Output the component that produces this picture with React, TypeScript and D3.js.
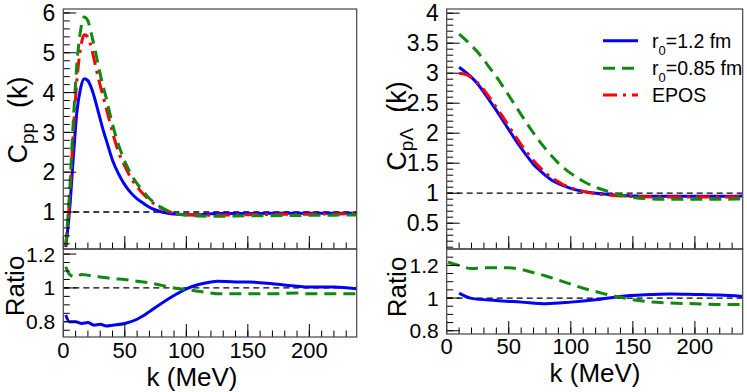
import * as d3 from "d3";
import React from "react";

const FONT = "'Liberation Sans', Arial, Helvetica, sans-serif";

// ---- p-p correlation (left panel) ----
const kPP = [2, 5, 8, 11, 14, 17, 20, 23, 26, 29, 32, 35, 40, 45, 50, 55, 60, 65, 70, 75, 80, 85, 90, 100, 110, 120, 130, 140, 160, 180, 200, 220, 238];
const ppR12 = [0.12, 1.0, 2.3, 3.5, 4.1, 4.35, 4.3, 4.1, 3.8, 3.45, 3.1, 2.8, 2.3, 1.95, 1.68, 1.48, 1.33, 1.22, 1.12, 1.05, 1.0, 0.97, 0.95, 0.93, 0.93, 0.955, 0.965, 0.965, 0.965, 0.97, 0.97, 0.97, 0.97];
const ppR085 = [0.16, 1.45, 3.2, 4.7, 5.55, 5.9, 5.8, 5.45, 5.05, 4.6, 4.2, 3.85, 3.2, 2.68, 2.27, 1.95, 1.71, 1.51, 1.34, 1.21, 1.11, 1.03, 0.97, 0.92, 0.9, 0.895, 0.895, 0.9, 0.905, 0.91, 0.915, 0.92, 0.925];
const ppEpos = [0.14, 1.25, 2.9, 4.3, 5.1, 5.45, 5.4, 5.1, 4.7, 4.3, 3.95, 3.6, 3.0, 2.5, 2.15, 1.85, 1.63, 1.45, 1.3, 1.18, 1.09, 1.02, 0.97, 0.93, 0.92, 0.92, 0.925, 0.93, 0.935, 0.94, 0.945, 0.95, 0.955];

const kRatioPP = [2, 5, 10, 15, 20, 25, 30, 35, 40, 50, 60, 65, 70, 80, 90, 100, 110, 120, 125, 140, 150, 170, 190, 200, 220, 238];
const ratioPPR12 = [0.84, 0.8, 0.8, 0.79, 0.795, 0.78, 0.785, 0.775, 0.78, 0.79, 0.815, 0.835, 0.86, 0.91, 0.955, 0.995, 1.02, 1.035, 1.04, 1.035, 1.035, 1.025, 1.01, 1.005, 1.005, 0.995];
const ratioPPR085 = [1.125, 1.08, 1.065, 1.08, 1.075, 1.07, 1.065, 1.06, 1.055, 1.05, 1.04, 1.035, 1.03, 1.015, 1.0, 0.99, 0.98, 0.97, 0.965, 0.965, 0.965, 0.965, 0.97, 0.965, 0.965, 0.965];

// ---- p-Lambda correlation (right panel) ----
const kPL = [10, 15, 20, 25, 30, 35, 40, 45, 50, 55, 60, 65, 70, 75, 80, 85, 90, 95, 100, 110, 120, 130, 140, 150, 160, 180, 200, 220, 238];
const plR12 = [3.1, 3.02, 2.93, 2.82, 2.68, 2.53, 2.38, 2.22, 2.06, 1.9, 1.75, 1.61, 1.48, 1.38, 1.29, 1.21, 1.16, 1.12, 1.08, 1.03, 1.0, 0.98, 0.96, 0.955, 0.95, 0.95, 0.95, 0.95, 0.955];
const plR085 = [3.65, 3.56, 3.46, 3.35, 3.22, 3.08, 2.94, 2.79, 2.63, 2.47, 2.31, 2.15, 2.0, 1.86, 1.73, 1.61, 1.5, 1.41, 1.33, 1.2, 1.1, 1.03, 0.97, 0.93, 0.91, 0.9, 0.9, 0.9, 0.905];
const plEpos = [3.0, 2.98, 2.93, 2.84, 2.72, 2.58, 2.43, 2.28, 2.12, 1.96, 1.81, 1.67, 1.54, 1.43, 1.33, 1.25, 1.19, 1.13, 1.09, 1.03, 0.99, 0.97, 0.955, 0.945, 0.94, 0.935, 0.935, 0.935, 0.94];

const kRatioPLR12 = [10, 20, 40, 60, 80, 100, 120, 140, 160, 180, 200, 220, 238];
const ratioPLR12 = [1.03, 0.998, 0.985, 0.975, 0.965, 0.975, 0.99, 1.01, 1.02, 1.025, 1.022, 1.018, 1.01];
const kRatioPLR085 = [1, 10, 20, 30, 40, 50, 60, 70, 80, 90, 100, 110, 120, 130, 140, 150, 160, 180, 200, 220, 238];
const ratioPLR085 = [1.22, 1.2, 1.18, 1.185, 1.185, 1.185, 1.175, 1.155, 1.135, 1.11, 1.085, 1.06, 1.04, 1.02, 1.005, 0.99, 0.98, 0.97, 0.965, 0.96, 0.96];

const xMajorTicks = [0, 50, 100, 150, 200];
const legendLabels = ["1.2 fm", "0.85 fm", "EPOS"];

const BLUE = "#0000ff";
const GREEN = "#118811";
const RED = "#ff0000";
const DASH_GREEN = "12 7";
const DASH_RED = "14 6 3 6";

type Curve = { k: number[]; v: number[]; color: string; dash?: string };

const fmt = (v: number) => d3.format("~g")(+v.toFixed(2));

function Pad(props: {
  id: string;
  x0: number; x1: number; y0: number; y1: number;
  yDomain: [number, number];
  yMajor: number[]; yMinorStep: number;
  curves: Curve[];
  showXLabels: boolean;
  labelSize: number;
  xLabelY?: number;
}) {
  const { id, x0, x1, y0, y1, yDomain, yMajor, yMinorStep, curves, showXLabels, labelSize } = props;
  const xs = d3.scaleLinear().domain([0, 238.5]).range([x0, x1]);
  const ys = d3.scaleLinear().domain(yDomain).range([y1, y0]);
  const yMinor = d3.range(Math.ceil(yDomain[0] / yMinorStep) * yMinorStep, yDomain[1], yMinorStep);
  const xMinor = d3.range(10, 238.5, 10);
  const line = (c: Curve) =>
    d3.line<number>().x((_, i) => xs(c.k[i])).y(d => ys(d)).curve(d3.curveMonotoneX)(c.v) || "";

  return (
    <g>
      <defs>
        <clipPath id={id}>
          <rect x={x0} y={y0} width={x1 - x0} height={y1 - y0} />
        </clipPath>
      </defs>
      {/* reference line at 1 */}
      <line x1={x0} x2={x1} y1={ys(1)} y2={ys(1)} stroke="#000" strokeWidth={1.3} strokeDasharray="6 4" />
      <g clipPath={`url(#${id})`}>
        {curves.map((c, i) => (
          <path key={i} d={line(c)} fill="none" stroke={c.color} strokeWidth={3} strokeDasharray={c.dash} />
        ))}
      </g>
      {/* y ticks */}
      {yMinor.map((v, i) => (
        <line key={"ym" + i} x1={x0} x2={x0 + 6.5} y1={ys(v)} y2={ys(v)} stroke="#000" strokeWidth={1} />
      ))}
      {yMajor.map((v, i) => (
        <g key={"yM" + i}>
          <line x1={x0} x2={x0 + 13} y1={ys(v)} y2={ys(v)} stroke="#000" strokeWidth={1} />
          <text x={x0 - 8} y={ys(v)} dy="0.36em" textAnchor="end" fontFamily={FONT} fontSize={labelSize}>{fmt(v)}</text>
        </g>
      ))}
      {/* x ticks */}
      {xMinor.map((v, i) => (
        <line key={"xm" + i} x1={xs(v)} x2={xs(v)} y1={y1} y2={y1 - 6.5} stroke="#000" strokeWidth={1} />
      ))}
      {xMajorTicks.map((v, i) => (
        <line key={"xM" + i} x1={xs(v)} x2={xs(v)} y1={y1} y2={y1 - 13} stroke="#000" strokeWidth={1} />
      ))}
      {showXLabels && xMajorTicks.map((v, i) => (
        <text key={"xl" + i} x={xs(v)} y={props.xLabelY} textAnchor="middle" fontFamily={FONT} fontSize={22}>{v}</text>
      ))}
      <rect x={x0} y={y0} width={x1 - x0} height={y1 - y0} fill="none" stroke="#444" strokeWidth={1.2} />
    </g>
  );
}

export default function App() {
  const L = { x0: 63.3, x1: 356.7 };
  const R = { x0: 446.7, x1: 742.7 };
  const legendColors = [BLUE, GREEN, RED];
  const legendDash = [undefined, DASH_GREEN, DASH_RED];
  const legendY = [40.7, 68.3, 95];

  return (
    <svg width={747} height={392} style={{ position: "absolute", left: 0, top: 0, background: "#fff" }}>
      <rect width={747} height={392} fill="#fff" />
      {/* left: p-p */}
      <Pad id="c1" x0={L.x0} x1={L.x1} y0={9} y1={249} yDomain={[0.07, 6.1]}
        yMajor={[1, 2, 3, 4, 5, 6]} yMinorStep={0.2} showXLabels={false} labelSize={23}
        curves={[
          { k: kPP, v: ppR12, color: BLUE },
          { k: kPP, v: ppEpos, color: RED, dash: DASH_RED },
          { k: kPP, v: ppR085, color: GREEN, dash: DASH_GREEN },
        ]} />
      <Pad id="c2" x0={L.x0} x1={L.x1} y0={249} y1={337} yDomain={[0.71, 1.23]}
        yMajor={[0.8, 1, 1.2]} yMinorStep={0.05} showXLabels={true} labelSize={21} xLabelY={358}
        curves={[
          { k: kRatioPP, v: ratioPPR12, color: BLUE },
          { k: kRatioPP, v: ratioPPR085, color: GREEN, dash: DASH_GREEN },
        ]} />
      {/* right: p-Lambda */}
      <Pad id="c3" x0={R.x0} x1={R.x1} y0={9} y1={249} yDomain={[0.07, 4.07]}
        yMajor={[0.5, 1, 1.5, 2, 2.5, 3, 3.5, 4]} yMinorStep={0.1} showXLabels={false} labelSize={23}
        curves={[
          { k: kPL, v: plR12, color: BLUE },
          { k: kPL, v: plEpos, color: RED, dash: DASH_RED },
          { k: kPL, v: plR085, color: GREEN, dash: DASH_GREEN },
        ]} />
      <Pad id="c4" x0={R.x0} x1={R.x1} y0={249} y1={334} yDomain={[0.78, 1.3]}
        yMajor={[0.8, 1, 1.2]} yMinorStep={0.05} showXLabels={true} labelSize={21} xLabelY={354}
        curves={[
          { k: kRatioPLR12, v: ratioPLR12, color: BLUE },
          { k: kRatioPLR085, v: ratioPLR085, color: GREEN, dash: DASH_GREEN },
        ]} />

      {/* axis titles */}
      <text transform="translate(27,120) rotate(-90)" textAnchor="middle" fontFamily={FONT} fontSize={27}>
        C<tspan fontSize={19} dy={7}>pp</tspan><tspan dy={-7} xmlSpace="preserve">  (k)</tspan>
      </text>
      <text transform="translate(24,286) rotate(-90)" textAnchor="middle" fontFamily={FONT} fontSize={26}>Ratio</text>
      <text x={192} y={386} textAnchor="middle" fontFamily={FONT} fontSize={26}>k (MeV)</text>

      <text transform="translate(406,126) rotate(-90)" textAnchor="middle" fontFamily={FONT} fontSize={27}>
        C<tspan fontSize={19} dy={7}>pΛ</tspan><tspan dy={-7} xmlSpace="preserve">  (k)</tspan>
      </text>
      <text transform="translate(406,287) rotate(-90)" textAnchor="middle" fontFamily={FONT} fontSize={26}>Ratio</text>
      <text x={595} y={382} textAnchor="middle" fontFamily={FONT} fontSize={26}>k (MeV)</text>

      {/* legend */}
      {legendLabels.map((lab, i) => (
        <g key={lab}>
          <line x1={603} x2={638} y1={legendY[i]} y2={legendY[i]} stroke={legendColors[i]} strokeWidth={3} strokeDasharray={legendDash[i]} />
          <text x={652} y={legendY[i] + 7} fontFamily={FONT} fontSize={19.5}>
            {i < 2 ? (
              <>r<tspan fontSize={13} dy={7}>0</tspan><tspan dy={-7}>={lab}</tspan></>
            ) : lab}
          </text>
        </g>
      ))}
    </svg>
  );
}
